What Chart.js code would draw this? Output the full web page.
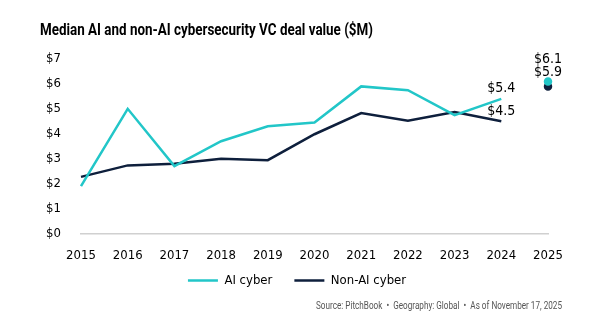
<!DOCTYPE html>
<html>
<head>
  <title>AI vs non-AI cyber deal value</title>
  <script src="https://cdn.jsdelivr.net/npm/chart.js@4.4.1/dist/chart.umd.min.js"></script>
  <style>
    body { margin: 0; background: #fff; }
    #wrap { width: 601px; height: 324px; }
  </style>
</head>
<body>
<div id="wrap"><canvas id="myChart" width="601" height="324"></canvas></div>

<script>
const years = ['2015', '2016', '2017', '2018', '2019', '2020', '2021', '2022', '2023', '2024', '2025'];
const aiCyber = [1.9, 5.0, 2.7, 3.7, 4.3, 4.45, 5.9, 5.75, 4.75, 5.4, 6.1];
const nonAiCyber = [2.27, 2.73, 2.8, 3.0, 2.94, 3.98, 4.83, 4.52, 4.87, 4.5, 5.9];
const yTicks = [0, 1, 2, 3, 4, 5, 6, 7];
const titleText = 'Median AI and non-AI cybersecurity VC deal value ($M)';
const sourceText = 'Source: PitchBook  \u2022  Geography: Global  \u2022  As of November 17, 2025';

const teal = '#22c6c8';
const navy = '#0e1f3c';
const narrow = "'DejaVu Sans Condensed', 'Roboto', sans-serif";
const last = years.length - 1;

// draw text squeezed to a given width (the original uses a condensed face)
function squeezed(ctx, text, x, y, w, align) {
  const tw = ctx.measureText(text).width;
  const sx = Math.min(1, w / tw);
  ctx.save();
  ctx.translate(align === 'right' ? x - tw * sx : x, y);
  ctx.scale(sx, 1);
  ctx.fillText(text, 0, 0);
  ctx.restore();
}

const extraText = {
  id: 'extraText',
  afterLayout(chart) {
    // pull the legend up closer to the year labels
    chart.legend.top -= 25;
    chart.legend.bottom -= 25;
  },
  afterDraw(chart) {
    const ctx = chart.ctx;
    ctx.save();
    ctx.textAlign = 'left';
    ctx.textBaseline = 'alphabetic';
    ctx.fillStyle = '#000';
    ctx.font = "bold 16px 'Roboto', sans-serif";
    squeezed(ctx, titleText, 40, 35, 333, 'left');
    ctx.fillStyle = '#555';
    ctx.font = "10px 'Roboto', sans-serif";
    squeezed(ctx, sourceText, 562, 308.5, 246, 'right');
    ctx.restore();
  },
  afterDatasetsDraw(chart) {
    const ctx = chart.ctx;
    const ai = chart.getDatasetMeta(0).data;
    const non = chart.getDatasetMeta(1).data;
    ctx.save();
    ctx.font = '14px ' + narrow;
    ctx.fillStyle = '#000';
    ctx.textAlign = 'center';
    ctx.textBaseline = 'middle';
    ctx.fillText('$' + aiCyber[last - 1].toFixed(1), ai[last - 1].x, ai[last - 1].y - 11);
    ctx.fillText('$' + nonAiCyber[last - 1].toFixed(1), non[last - 1].x, non[last - 1].y - 10);
    ctx.fillText('$' + aiCyber[last].toFixed(1), ai[last].x, ai[last].y - 22);
    ctx.fillText('$' + nonAiCyber[last].toFixed(1), non[last].x, ai[last].y - 9);
    ctx.restore();
  }
};

function lineSet(label, data, color) {
  return {
    label: label,
    data: data,
    borderColor: color,
    backgroundColor: color,
    borderWidth: 2.5,
    pointRadius: data.map((v, i) => i === last ? 3 : 0),
    pointHoverRadius: 0,
    segment: {
      borderColor: c => c.p1DataIndex === last ? 'transparent' : color
    },
    tension: 0
  };
}

new Chart('myChart', {
  type: 'line',
  data: {
    labels: years,
    datasets: [lineSet('AI cyber', aiCyber, teal), lineSet('Non-AI cyber', nonAiCyber, navy)]
  },
  options: {
    responsive: false,
    animation: false,
    layout: { padding: { left: 46, right: 53, top: 59, bottom: 2 } },
    plugins: {
      title: { display: false },
      legend: {
        position: 'bottom',
        labels: {
          color: '#000',
          font: { family: narrow, size: 13 },
          boxWidth: 30,
          boxHeight: 2.5,
          padding: 22,
          generateLabels: chart => Chart.defaults.plugins.legend.labels.generateLabels(chart)
            .map(l => Object.assign(l, { lineWidth: 0 }))
        }
      },
      tooltip: { enabled: false }
    },
    scales: {
      x: {
        offset: false,
        grid: { display: false, drawTicks: false },
        border: { display: true, color: '#d0d0d0', width: 1.5 },
        ticks: { color: '#000', font: { family: narrow, size: 13 }, padding: 14, maxRotation: 0 }
      },
      y: {
        min: 0,
        max: 7,
        grid: { display: false },
        border: { display: false },
        afterBuildTicks: s => { s.ticks = yTicks.map(v => ({ value: v })); },
        afterFit: s => { s.width = 35; },
        ticks: {
          color: '#000',
          font: { family: narrow, size: 13 },
          crossAlign: 'far',
          callback: v => '$' + v
        }
      }
    }
  },
  plugins: [extraText]
});
</script>
</body>
</html>
